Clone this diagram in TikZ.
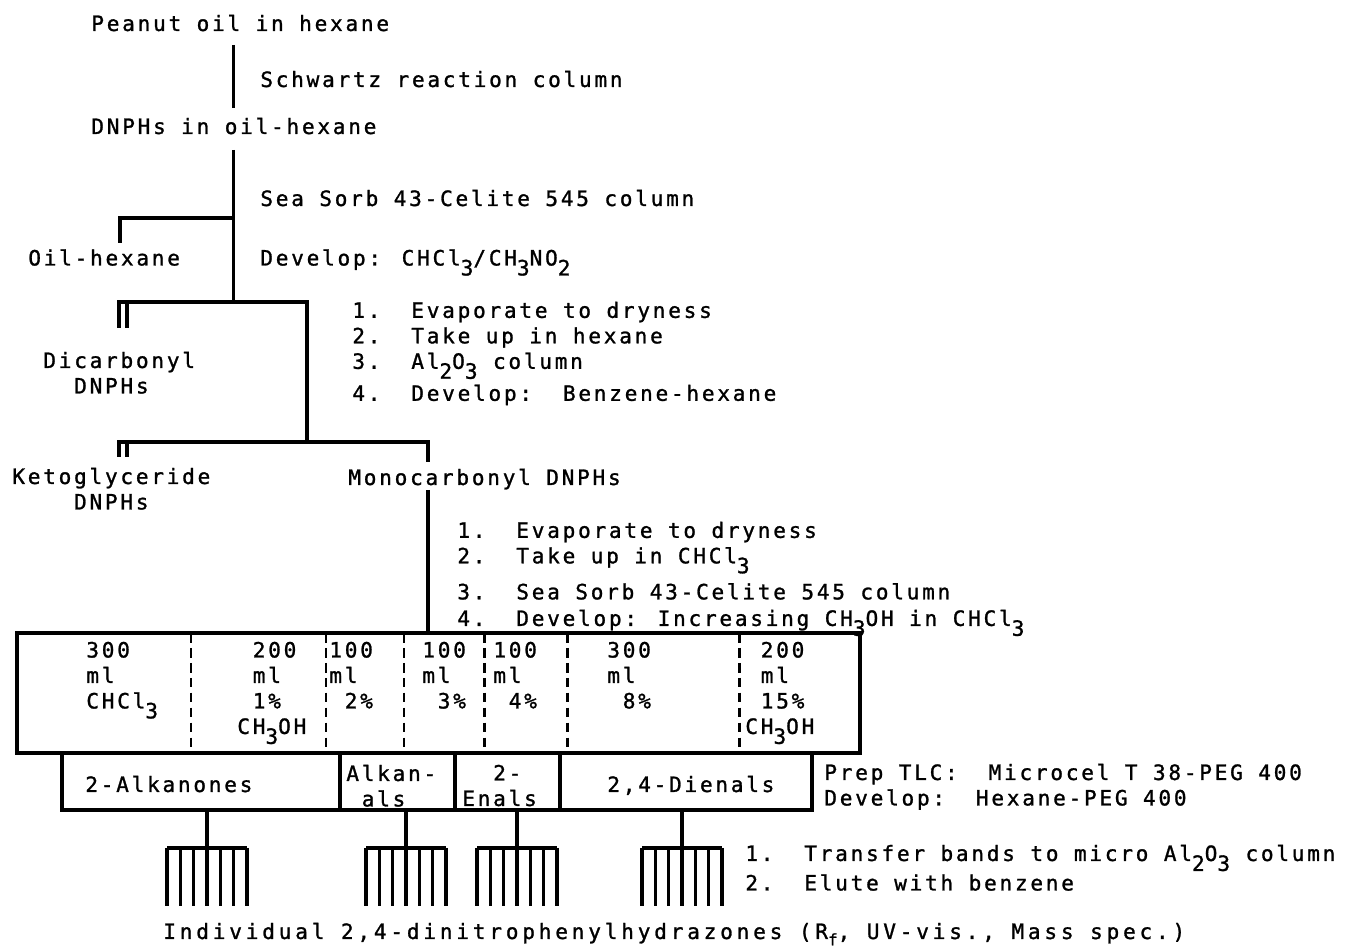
\documentclass[tikz,border=0pt]{standalone}
\usepackage{fontspec}
\usepackage{tikz}

\newfontfamily\typew[LetterSpace=13,FakeBold=1.2]{DejaVu Sans Mono}
\newfontfamily\typewide[LetterSpace=18,FakeBold=1.2]{DejaVu Sans Mono}
\newcommand\tw{\typew\fontsize{12}{14.5}\selectfont\spaceskip=0.732em\relax}
\newcommand\twide{\typewide\fontsize{12}{14.5}\selectfont\spaceskip=0.782em\relax}
\newcommand\dn[1]{\raisebox{-0.47em}{#1}}

\begin{document}
\begin{tikzpicture}[
  lbl/.style={font=\tw, inner sep=0pt, anchor=base west},
  blk/.style={font=\tw, inner sep=0pt, anchor=north west, align=left},
  tree/.style={line width=2pt},
  dashsep/.style={line width=1.7pt, dash pattern=on 5.5pt off 3pt}]
\useasboundingbox (0,0) rectangle (27.28,18.94);

% fractions down to the monocarbonyls
\node[lbl] (peanut) at (1.82,18.32) {Peanut oil in hexane};
\node[lbl] (schwartz) at (5.20,17.20) {Schwartz reaction column};
\node[lbl] (dnph) at (1.82,16.26) {DNPHs in oil-hexane};
\node[lbl] (seasorb) at (5.20,14.82) {Sea Sorb 43-Celite 545 column};
\node[lbl] (oilhex) at (0.56,13.63) {Oil-hexane};
\node[lbl] (devnitro) at (5.20,13.63) {Develop: CHCl\dn{3}/CH\dn{3}NO\dn{2}};
\node[blk] (dicarb) at (0.86,11.91) {Dicarbonyl\\\ \ DNPHs};
\node[blk] (alsteps) at (7.04,12.91)
  {1.\ \ Evaporate to dryness\\2.\ \ Take up in hexane\\3.\ \ Al\dn{2}O\dn{3} column\\[2.2pt]4.\ \ Develop:\ \ Benzene-hexane};
\node[blk] (keto) at (0.24,9.59) {Ketoglyceride\\\ \ \ \ DNPHs};
\node[lbl] (mono) at (6.96,9.24) {Monocarbonyl DNPHs};
\node[blk] (monosteps) at (9.14,8.51)
  {1.\ \ Evaporate to dryness\\2.\ \ Take up in CHCl\dn{3}\\[4.5pt]3.\ \ Sea Sorb 43-Celite 545 column\\[0.6pt]4.\ \ Develop: Increasing CH\dn{3}OH in CHCl\dn{3}};

\coordinate (sw1) at (4.67,18.04);
\coordinate (sw2) at (4.67,16.78);
\coordinate (ss1) at (4.67,15.94);
\coordinate (ss2) at (4.67,12.90);
\coordinate (oh) at (2.40,14.08);
\coordinate (dc) at (2.38,12.38);
\coordinate (al1) at (6.14,12.90);
\coordinate (al2) at (6.14,10.10);
\coordinate (kg) at (2.38,9.80);
\coordinate (mc) at (8.56,9.70);
\coordinate (mc1) at (8.56,9.14);
\coordinate (mc2) at (8.56,6.28);

\draw[tree] (sw1) -- (sw2);
\draw[tree] (ss1) -- (ss2);
\draw[tree] (ss1 |- 0,14.58) -| (oh);
\draw[tree] (al2) -- (al1) -| (dc);
\draw[tree] ([xshift=0.16cm]dc) -- ++(0,0.50);
\draw[tree] (kg) |- (al2) -| (mc);
\draw[tree] ([xshift=0.16cm]kg) -- ++(0,0.28);
\draw[tree] (mc1) -- (mc2);

% elution fractions
\draw[tree] (0.34,6.28) rectangle (17.20,3.88);
\foreach \x in {3.82,6.52,8.08,9.68,11.34,14.78}
  \draw[dashsep] (\x,6.28) -- (\x,3.88);
\node[blk] (f300) at (1.72,6.11) {300\\ml\\CHCl\dn{3}};
\node[blk] (f200) at (4.74,6.11) {\ 200\\\ ml\\\ 1\%\\CH\dn{3}OH};
\node[blk] (f2) at (6.58,6.11) {100\\ml\\\ 2\%};
\node[blk] (f3) at (8.44,6.11) {100\\ml\\\ 3\%};
\node[blk] (f4) at (9.86,6.11) {100\\ml\\\ 4\%};
\node[blk] (f8) at (12.14,6.11) {300\\ml\\\ 8\%};
\node[blk] (f15) at (14.90,6.11) {\ 200\\\ ml\\\ 15\%\\CH\dn{3}OH};

% TLC classes
\draw[tree] (1.24,3.88) rectangle (16.24,2.74);
\foreach \x in {6.80,9.10,11.20}
  \draw[tree] (\x,3.88) -- (\x,2.74);
\node[lbl] (alkanones) at (1.70,3.10) {2-Alkanones};
\node[blk] (alkanals) at (6.92,3.65) {Alkan-\\\ als};
\node[blk] (enals) at (9.24,3.65) {\ \ 2-\\Enals};
\node[lbl] (dienals) at (12.14,3.10) {2,4-Dienals};
\node[blk] (tlc) at (16.48,3.67) {Prep TLC:\ \ Microcel T 38-PEG 400\\Develop:\ \ Hexane-PEG 400};

% bands
\foreach \c in {4.14,8.12,10.34,13.64} {
  \draw[tree] (\c,2.74) -- (\c,1.98);
  \draw[tree] ({\c-0.8},1.98) -- ({\c+0.8},1.98);
  \foreach \k in {0,...,6}
    \draw[tree] ({\c-0.8+\k*0.2667},1.98) -- ++(0,-1.16);
}
\node[blk] (elute) at (14.90,2.05)
  {1.\ \ Transfer bands to micro Al\dn{2}O\dn{3} column\\[0.8pt]2.\ \ Elute with benzene};
\node[lbl, font=\twide] (indiv) at (3.26,0.16)
  {Individual 2,4-dinitrophenylhydrazones (R\raisebox{-0.3em}{\fontsize{9}{9}\selectfont f}, UV-vis., Mass spec.)};
\end{tikzpicture}
\end{document}
